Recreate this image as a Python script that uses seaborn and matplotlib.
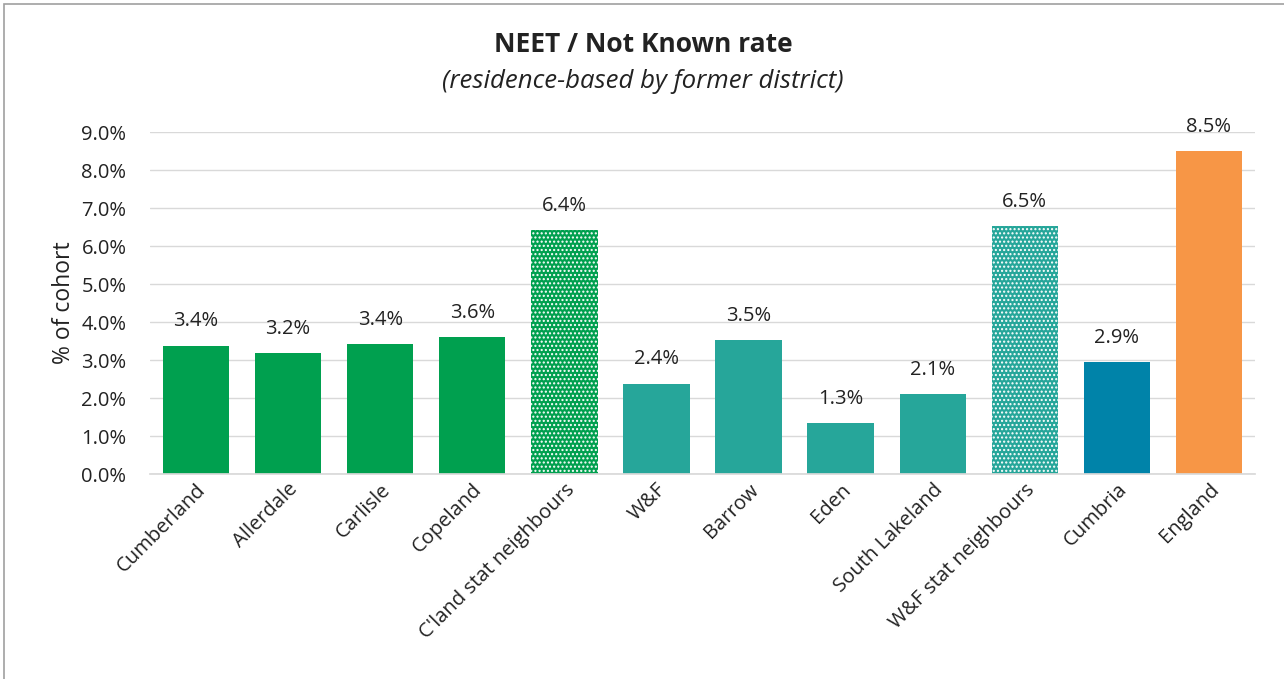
import matplotlib
matplotlib.use("Agg")
import matplotlib.pyplot as plt
import seaborn as sns
import pandas as pd
from matplotlib.patches import Rectangle
from matplotlib.ticker import PercentFormatter

categories = ["Cumberland", "Allerdale", "Carlisle", "Copeland", "C'land stat neighbours",
              "W&F", "Barrow", "Eden", "South Lakeland", "W&F stat neighbours",
              "Cumbria", "England"]
heights = [3.37, 3.18, 3.42, 3.60, 6.42, 2.38, 3.52, 1.33, 2.10, 6.52, 2.94, 8.50]
labels = ["3.4%", "3.2%", "3.4%", "3.6%", "6.4%", "2.4%", "3.5%", "1.3%", "2.1%", "6.5%", "2.9%", "8.5%"]

green = "#00A04F"
teal = "#26A69A"
blue = "#0083A9"
orange = "#F79646"
colors = [green, green, green, green, green, teal, teal, teal, teal, teal, blue, orange]
hatched = [False, False, False, False, True, False, False, False, False, True, False, False]

sns.set_theme(style="white")
plt.rcParams['font.family'] = ['Open Sans', 'DejaVu Sans']

fig = plt.figure(figsize=(12.84, 6.79), dpi=100)
ax = fig.add_axes([150/1284, (679-474)/679, (1255-150)/1284, (474-132)/679])

df = pd.DataFrame({"cat": categories, "val": heights})
sns.barplot(data=df, x="cat", y="val", hue="cat", palette=colors, legend=False,
            width=0.72, ax=ax, saturation=1)

for patch, h in zip(ax.patches, hatched):
    patch.set_linewidth(0)
    if h:
        patch.set_hatch("....")
        patch.set_edgecolor("white")

for i, (v, lab) in enumerate(zip(heights, labels)):
    ax.text(i, v + 0.38, lab, ha="center", va="bottom", fontsize=14.5, color="#222222")

ax.set_ylim(0, 9)
ax.set_xlim(-0.5, len(categories) - 0.5)
ax.set_yticks([i for i in range(10)])
ax.yaxis.set_major_formatter(PercentFormatter(decimals=1))
ax.grid(axis="y", color="#D9D9D9", linewidth=1)
ax.set_axisbelow(True)
for s in ["top", "right", "left"]:
    ax.spines[s].set_visible(False)
ax.spines["bottom"].set_color("#D9D9D9")
ax.tick_params(axis="y", labelsize=14.5, length=0, pad=17, labelcolor="#222222")
ax.tick_params(axis="x", labelsize=14.5, length=0, pad=4, labelcolor="#222222")
plt.setp(ax.get_xticklabels(), rotation=45, ha="right", rotation_mode="anchor")
ax.set_xlabel("")
ax.set_ylabel("% of cohort", fontsize=16.5, color="#222222", labelpad=4)

fig.text(643/1284, 1 - 45/679, "NEET / Not Known rate", ha="center", va="center",
         fontsize=19, fontweight="bold", color="#222222")
fig.text(643/1284, 1 - 81/679, "(residence-based by former district)", ha="center", va="center",
         fontsize=18.5, fontstyle="italic", color="#222222")

fig.patches.append(Rectangle((4/1284, -0.1), 1.2, (679-4)/679 + 0.1, transform=fig.transFigure,
                             fill=False, edgecolor="#A0A0A0", linewidth=1.2))

fig.savefig("out.png", dpi=100)
